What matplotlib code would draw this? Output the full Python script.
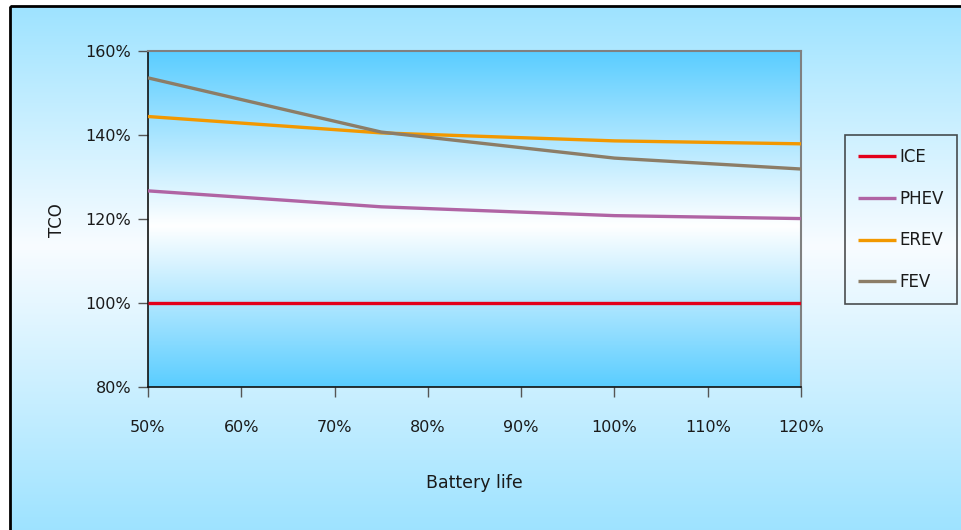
import numpy as np
import matplotlib
matplotlib.use("Agg")
import matplotlib.pyplot as plt
from matplotlib.colors import LinearSegmentedColormap
from matplotlib.patches import Rectangle

plt.rcParams['font.family'] = ['DejaVu Sans']

# Battery life scenarios (% of nominal) and TCO relative to ICE
battery_life = [50, 75, 100, 120]
ice = [100, 100, 100, 100]
phev = [126.7, 122.9, 120.8, 120.1]
erev = [144.4, 140.5, 138.6, 137.9]
fev = [153.6, 140.7, 134.5, 131.9]

series = [("ICE", ice, "#E3001B"),
          ("PHEV", phev, "#B064A4"),
          ("EREV", erev, "#F29800"),
          ("FEV", fev, "#8C7D67")]

x_ticks = [50, 60, 70, 80, 90, 100, 110, 120]
y_ticks = [80, 100, 120, 140, 160]

W, H = 961, 530
fig = plt.figure(figsize=(W / 100, H / 100), dpi=100)
fig.patch.set_facecolor("white")

# outer chart-area background with a vertical gradient and black frame
bg = fig.add_axes([0, 0, 1, 1], zorder=0)
bg.set_xlim(0, W)
bg.set_ylim(H, 0)
bg.axis("off")
outer_cmap = LinearSegmentedColormap.from_list(
    "outer", [(0.0, "#9EE3FF"), (0.45, "#F8FCFF"), (1.0, "#9BE2FF")])
grad = np.linspace(0, 1, 256).reshape(-1, 1)
bg.imshow(grad, cmap=outer_cmap, aspect="auto",
          extent=[10, W + 10, H + 10, 6], zorder=0)
bg.add_patch(Rectangle((10, 6), W + 20, H + 20, fill=False,
                       edgecolor="black", linewidth=2.0, zorder=1))

ax = fig.add_axes([148 / W, 1 - 387 / H, (801 - 148) / W, (387 - 51) / H], zorder=1)
inner_cmap = LinearSegmentedColormap.from_list(
    "inner", [(0.0, "#5ACDFF"), (0.52, "#FFFFFF"), (1.0, "#5ACDFF")])
ax.imshow(grad, cmap=inner_cmap, aspect="auto",
          extent=[50, 120, 80, 160], zorder=0)

for name, vals, color in series:
    ax.plot(battery_life, vals, color=color, linewidth=2.4, label=name,
            solid_capstyle="butt", zorder=3)

ax.set_xlim(50, 120)
ax.set_ylim(80, 160)
ax.set_xticks(x_ticks)
ax.set_xticklabels([f"{v}%" for v in x_ticks])
ax.set_yticks(y_ticks)
ax.set_yticklabels([f"{v}%" for v in y_ticks])
ax.tick_params(axis="both", direction="out", length=7, width=1,
               color="#555555", labelsize=11.5, labelcolor="#1a1a1a")
ax.tick_params(axis="x", pad=17)
ax.tick_params(axis="y", pad=5)

for side in ["top", "right"]:
    ax.spines[side].set_color("#808080")
    ax.spines[side].set_linewidth(1.5)
for side in ["left", "bottom"]:
    ax.spines[side].set_color("#111111")
    ax.spines[side].set_linewidth(1.2)

fig.text(474 / W, 1 - 483 / H, "Battery life", ha="center", va="center",
         fontsize=12.5, color="#1a1a1a")
fig.text(57 / W, 1 - 220 / H, "TCO", ha="center", va="center",
         rotation=90, fontsize=12, color="#1a1a1a")

leg = fig.legend(loc="upper left", bbox_to_anchor=(845 / W, 1 - 135 / H),
                 frameon=True, fancybox=False, fontsize=12,
                 handlelength=2.25, handletextpad=0.22,
                 labelspacing=1.42, borderpad=0.78, borderaxespad=0)
leg.get_frame().set_facecolor("none")
leg.get_frame().set_edgecolor("#222222")
leg.get_frame().set_linewidth(1.2)
for t in leg.get_texts():
    t.set_color("#1a1a1a")

fig.savefig("out.png", dpi=100)
